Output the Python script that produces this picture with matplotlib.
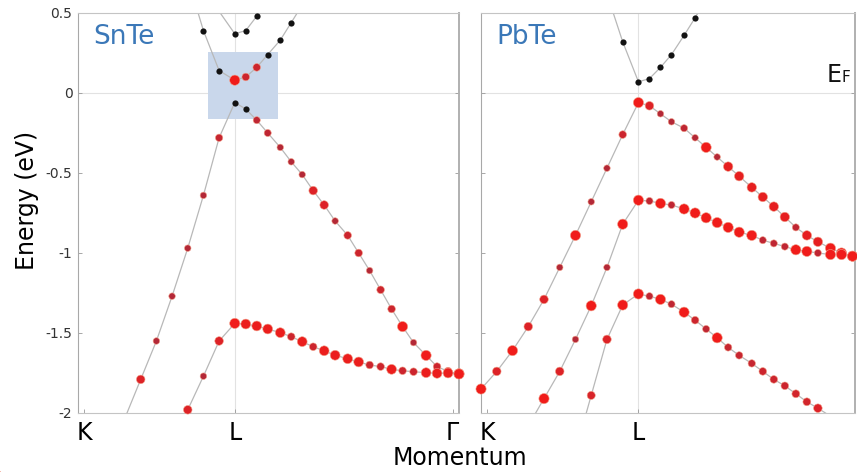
import numpy as np
import matplotlib.pyplot as plt
from matplotlib.colors import LinearSegmentedColormap
from matplotlib.patches import Rectangle

nan = np.nan

# momentum path positions (K = 0, L = 1, Gamma at the end of the path)
k_kl = [0.0, 0.1, 0.2, 0.3, 0.4, 0.5, 0.6, 0.7, 0.8, 0.9]
k_lg = [1.0, 1.07, 1.14, 1.21, 1.29, 1.36, 1.43, 1.50, 1.57, 1.64, 1.72,
        1.79, 1.86, 1.93, 2.00, 2.07, 2.14, 2.22, 2.29, 2.36, 2.43]
tick_pos = [0.04, 1.0, 2.39]
tick_lbl = ['K', 'L', 'Γ']
ytick_pos = [0.5, 0, -0.5, -1, -1.5, -2]
ytick_lbl = ['0.5', '0', '-0.5', '-1', '-1.5', '-2']

# each band: k, energy (eV), Te-p weight (0 -> cation-like, nan -> line only)
# ---- SnTe ----
snte_c1_k = [0.76, 0.8, 0.9] + k_lg[:6] + [1.43]
snte_c1_e = [0.52, 0.39, 0.14, 0.08, 0.10, 0.16, 0.24, 0.33, 0.44, 0.55]
snte_c1_w = [nan, 0, 0, 1.0, 0.4, 0.4, 0, 0, 0, nan]

snte_c2_k = [0.9] + k_lg[:4]
snte_c2_e = [0.51, 0.37, 0.39, 0.48, 0.58]
snte_c2_w = [nan, 0, 0, 0, nan]

snte_v1_k = k_kl[3:] + k_lg
snte_v1_e = [-2.03, -1.79, -1.55, -1.27, -0.97, -0.64, -0.28,
             -0.06, -0.10, -0.17, -0.25, -0.34, -0.43, -0.51, -0.61, -0.70,
             -0.80, -0.89, -1.00, -1.11, -1.23, -1.35, -1.46, -1.56, -1.64,
             -1.71, -1.74, -1.755]
snte_v1_w = [nan, 0.6, 0.2, 0.2, 0.2, 0.2, 0.35,
             0, 0, 0.3, 0.3, 0.2, 0.2, 0.2, 0.6, 0.6, 0.2, 0.4, 0.4, 0.2,
             0.4, 0.4, 1.0, 0.2, 1.0, 0.4, 0.5, 1.0]

snte_v2_k = k_kl[6:] + k_lg
snte_v2_e = [-2.2, -1.98, -1.77, -1.55,
             -1.44, -1.444, -1.456, -1.475, -1.498, -1.523, -1.554, -1.586,
             -1.611, -1.639, -1.661, -1.681, -1.70, -1.71, -1.727, -1.736,
             -1.742, -1.748, -1.752, -1.75, -1.756]
snte_v2_w = [nan, 0.6, 0.2, 0.6,
             1.0, 0.9, 0.9, 0.9, 0.9, 0.4, 0.9, 0.4, 0.9, 0.9, 0.9, 0.9,
             0.4, 0.4, 0.9, 0.4, 0.4, 0.9, 0.9, 0.9, 1.0]

# ---- PbTe ----
pbte_c1_k = [0.8, 0.9] + k_lg[:6] + [1.43]
pbte_c1_e = [0.62, 0.32, 0.07, 0.09, 0.16, 0.24, 0.36, 0.47, 0.59]
pbte_c1_w = [nan, 0, 0, 0, 0, 0, 0, 0, nan]

pbte_v1_k = k_kl + k_lg[:20]
pbte_v1_e = [-1.85, -1.74, -1.61, -1.46, -1.29, -1.09, -0.89, -0.68, -0.47,
             -0.26, -0.06, -0.08, -0.13, -0.18, -0.22, -0.28, -0.34, -0.40,
             -0.46, -0.52, -0.59, -0.65, -0.71, -0.775, -0.84, -0.89, -0.93,
             -0.97, -1.0, -1.02]
pbte_v1_w = [1.0, 0.6, 1.0, 0.6, 0.6, 0.2, 1.0, 0.2, 0.2, 0.4,
             1.0, 0.6, 0.2, 0.2, 0.3, 0.2, 1.0, 0.2, 0.8, 0.8, 0.8, 0.8,
             0.8, 0.8, 0.3, 0.8, 0.8, 1.0, 1.0, 1.0]

pbte_v2_k = k_kl[3:] + k_lg[:20]
pbte_v2_e = [-2.08, -1.91, -1.74, -1.54, -1.33, -1.09, -0.82,
             -0.67, -0.675, -0.69, -0.70, -0.725, -0.75, -0.78, -0.81, -0.84,
             -0.87, -0.89, -0.92, -0.94, -0.96, -0.98, -0.99, -1.0, -1.01,
             -1.01, -1.02]
pbte_v2_w = [nan, 1.0, 0.6, 0.2, 1.0, 0.2, 1.0,
             1.0, 0.3, 1.0, 0.3, 1.0, 1.0, 1.0, 1.0, 1.0, 1.0, 1.0, 0.3,
             0.3, 0.3, 1.0, 1.0, 0.3, 1.0, 1.0, 1.0]

pbte_v3_k = k_kl[6:] + k_lg[:18]
pbte_v3_e = [-2.24, -1.89, -1.54, -1.325,
             -1.256, -1.27, -1.29, -1.32, -1.37, -1.42, -1.475, -1.53, -1.59,
             -1.64, -1.69, -1.74, -1.79, -1.83, -1.88, -1.93, -1.97, -2.02]
pbte_v3_w = [nan, 0.5, 0.6, 1.0,
             1.0, 0.3, 1.0, 0.3, 1.0, 0.4, 0.3, 1.0, 0.35, 0.35, 0.35, 0.4,
             0.4, 0.4, 0.45, 0.45, 0.6, nan]

snte_bands = [(snte_c1_k, snte_c1_e, snte_c1_w), (snte_c2_k, snte_c2_e, snte_c2_w),
              (snte_v1_k, snte_v1_e, snte_v1_w), (snte_v2_k, snte_v2_e, snte_v2_w)]
pbte_bands = [(pbte_c1_k, pbte_c1_e, pbte_c1_w), (pbte_v1_k, pbte_v1_e, pbte_v1_w),
              (pbte_v2_k, pbte_v2_e, pbte_v2_w), (pbte_v3_k, pbte_v3_e, pbte_v3_w)]

te_cmap = LinearSegmentedColormap.from_list('te', ['#9b2a40', '#d8242a', '#f01c1a'])
EMIN, EMAX = -2.0, 0.5


def draw_band(ax, k, e, w):
    k, e, w = np.asarray(k), np.asarray(e), np.asarray(w, dtype=float)
    ax.plot(k, e, color='#b8b8b8', lw=0.9, zorder=2)
    show = ~np.isnan(w) & (e >= EMIN - 0.01) & (e <= EMAX)
    blk = show & (w == 0)
    red = show & (w > 0)
    ax.scatter(k[blk], e[blk], s=20, color='#121212', lw=0, zorder=3, clip_on=False)
    ax.scatter(k[red], e[red], s=14 + 40 * w[red], c=te_cmap(w[red]),
               lw=0.4, edgecolors='#f2a08a', zorder=3, clip_on=False)


def style_axes(ax, xmax):
    ax.set_xlim(0, xmax)
    ax.set_ylim(EMIN, EMAX)
    ax.axvline(1.0, color='#e2e2e2', lw=0.8, zorder=0)
    ax.axhline(0.0, color='#e2e2e2', lw=0.8, zorder=0)
    for side in ['top', 'bottom']:
        ax.spines[side].set_color('#c4c4c4')
    ax.spines['left'].set_color('#a8a8a8')
    ax.spines['right'].set_color('#b0b0b0')
    ax.spines['right'].set_linewidth(1.4)
    ax.set_yticks(ytick_pos)
    ax.set_xticks(tick_pos[:2] + ([tick_pos[2]] if xmax > 2.4 else []))
    ax.set_xticklabels(tick_lbl[:len(ax.get_xticks())], fontsize=17)
    ax.tick_params(axis='both', direction='in', length=3, width=0.6,
                   color='#999999', right=True)
    ax.tick_params(axis='x', pad=6)


plt.rcParams['font.family'] = ['DejaVu Sans']
plt.rcParams['axes.unicode_minus'] = False

fig = plt.figure(figsize=(8.57, 4.72), dpi=100)
ax1 = fig.add_axes([0.091, 0.125, 0.4446, 0.8475])
ax2 = fig.add_axes([0.5613, 0.125, 0.4364, 0.8475])

# SnTe panel
style_axes(ax1, 2.43)
ax1.set_yticklabels(ytick_lbl, fontsize=10, color='#333333')
ax1.tick_params(axis='y', pad=4)
ax1.add_patch(Rectangle((0.83, -0.1625), 0.444, 0.4185, facecolor='#c9d7eb',
                        edgecolor='none', zorder=1))
for k, e, w in snte_bands:
    draw_band(ax1, k, e, w)
ax1.text(0.095, 0.35, 'SnTe', color='#3b78b8', fontsize=19, va='center', ha='left')

# PbTe panel
style_axes(ax2, 2.376)
ax2.set_yticklabels([])
for k, e, w in pbte_bands:
    draw_band(ax2, k, e, w)
ax2.text(0.095, 0.35, 'PbTe', color='#3b78b8', fontsize=19, va='center', ha='left')
ax2.text(2.197, 0.069, 'E', fontsize=17, va='baseline', ha='left', color='#111111')
ax2.text(2.293, 0.069, 'F', fontsize=11, va='baseline', ha='left', color='#111111')

fig.text(0.031, 0.576, 'Energy (eV)', rotation=90, fontsize=17, ha='center', va='center')
fig.text(0.537, 0.03, 'Momentum', fontsize=17, ha='center', va='center')

fig.savefig('out.png', dpi=100)
